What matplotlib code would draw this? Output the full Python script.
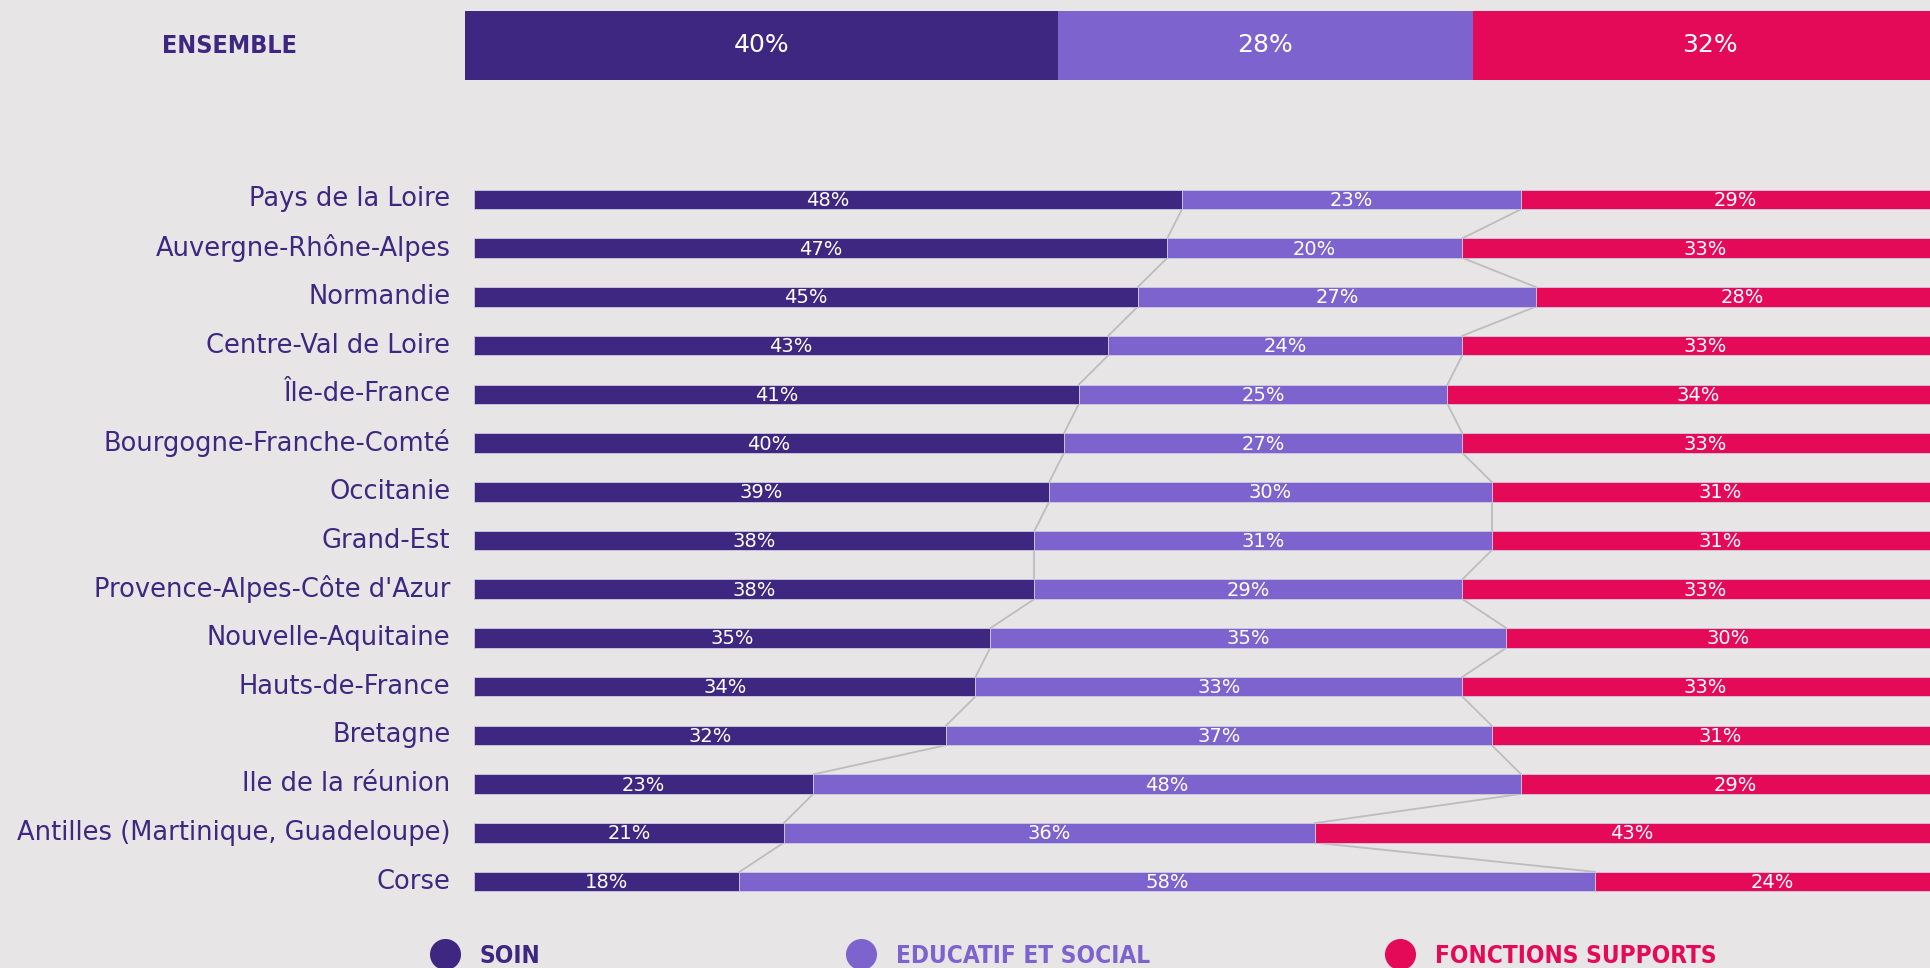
import numpy as np
import matplotlib.pyplot as plt

# données
regions = ["Pays de la Loire", "Auvergne-Rhône-Alpes", "Normandie", "Centre-Val de Loire",
           "Île-de-France", "Bourgogne-Franche-Comté", "Occitanie", "Grand-Est",
           "Provence-Alpes-Côte d'Azur", "Nouvelle-Aquitaine", "Hauts-de-France",
           "Bretagne", "Ile de la réunion", "Antilles (Martinique, Guadeloupe)", "Corse"]
soin = [48, 47, 45, 43, 41, 40, 39, 38, 38, 35, 34, 32, 23, 21, 18]
educatif = [23, 20, 27, 24, 25, 27, 30, 31, 29, 35, 33, 37, 48, 36, 58]
supports = [29, 33, 28, 33, 34, 33, 31, 31, 33, 30, 33, 31, 29, 43, 24]

ensemble = [40, 28, 32]
series_names = ["SOIN", "EDUCATIF ET SOCIAL", "FONCTIONS SUPPORTS"]
colors = ["#3E2780", "#7D63CD", "#E50A57"]
BG = "#E7E5E6"

W, H = 1931, 968
fig = plt.figure(figsize=(W / 100, H / 100), dpi=100, facecolor=BG)
plt.rcParams['font.family'] = ['DejaVu Sans']

# --- barre ENSEMBLE ---
ax_top = fig.add_axes([465 / W, 1 - 80 / H, 1 - 465 / W, 69 / H])
ax_top.set_facecolor(BG)
left = 0
for v, c in zip(ensemble, colors):
    ax_top.barh(0, v, left=left, height=1, color=c, linewidth=0)
    ax_top.text(left + v / 2, 0, f"{v}%", color="white", ha="center", va="center", fontsize=18)
    left += v
ax_top.set_xlim(0, (W - 465) / 1482 * 100)
ax_top.set_ylim(-0.5, 0.5)
ax_top.axis("off")

# --- barres régions ---
y_top, y_bot = 175, 906
ax = fig.add_axes([474 / W, 1 - y_bot / H, 1 - 474 / W, (y_bot - y_top) / H])
ax.set_facecolor(BG)
n = len(regions)
y = np.arange(n)
soin_a = np.array(soin)
edu_a = np.array(educatif)
sup_a = np.array(supports)
bh = 0.4

# lignes de liaison
b1 = soin_a
b2 = soin_a + edu_a
for b in (b1, b2):
    for i in range(n - 1):
        ax.plot([b[i], b[i + 1]], [i + bh / 2, i + 1 - bh / 2], color="#BDBDBD", lw=1.3, zorder=1)

lefts = [np.zeros(n), b1, b2]
for vals, l, c in zip([soin_a, edu_a, sup_a], lefts, colors):
    ax.barh(y, vals, left=l, height=bh, color=c, edgecolor="#CFC9E0", linewidth=0.6, zorder=2)
    for yi, v, li in zip(y, vals, l):
        ax.text(li + v / 2, yi + 0.02, f"{v}%", color="white", ha="center", va="center",
                fontsize=14, zorder=3)

for yi, r in zip(y, regions):
    ax.text(-1.6, yi, r, color="#3E2780", ha="right", va="center", fontsize=18.5)

ax.set_xlim(0, (W - 474) / 1475 * 100)
ax.set_ylim(n - 0.5, -0.5)
ax.axis("off")

# --- ENSEMBLE + légende ---
ov = fig.add_axes([0, 0, 1, 1], facecolor="none")
ov.set_xlim(0, W)
ov.set_ylim(H, 0)
ov.axis("off")
ov.text(230, 46, "ENSEMBLE", color="#3E2780", ha="center", va="center",
        fontsize=18, fontweight="bold", fontstretch="condensed")

leg_x = [445, 861, 1400]
for cx, name, c in zip(leg_x, series_names, colors):
    ov.scatter([cx], [954], s=500, color=c, linewidths=0, clip_on=False)
    ov.text(cx + 35, 956, name, color=c, ha="left", va="center", fontsize=17.5,
            fontweight="bold", fontstretch="condensed")

fig.savefig("out.png", dpi=100, facecolor=BG)
